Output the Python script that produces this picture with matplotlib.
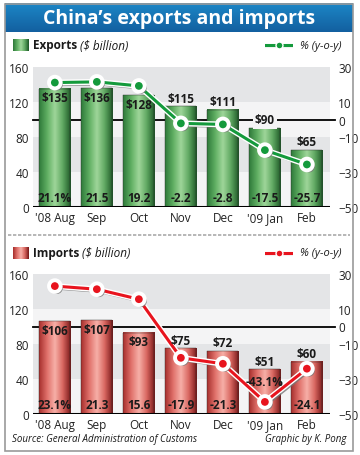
import numpy as np
import matplotlib
matplotlib.use("Agg")
import matplotlib.pyplot as plt
import matplotlib.patheffects as pe
from matplotlib.colors import LinearSegmentedColormap
from matplotlib.patches import Rectangle

months = ["'08 Aug", "Sep", "Oct", "Nov", "Dec", "'09 Jan", "Feb"]
exports = [135, 136, 128, 115, 111, 90, 65]
exports_yoy = [21.1, 21.5, 19.2, -2.2, -2.8, -17.5, -25.7]
imports = [106, 107, 93, 75, 72, 51, 60]
imports_yoy = [23.1, 21.3, 15.6, -17.9, -21.3, -43.1, -24.1]
left_ticks = [0, 40, 80, 120, 160]
right_ticks = [30, 10, 0, -10, -30, -50]

plt.rcParams['font.family'] = ['Open Sans', 'DejaVu Sans']

green_cm = LinearSegmentedColormap.from_list(
    "g", ["#2f7a3a", "#5fae62", "#9fd69a", "#5fa862", "#1f5a28"])
red_cm = LinearSegmentedColormap.from_list(
    "r", ["#a8302e", "#e0706a", "#f7b0a8", "#d86660", "#7a1a1a"])


def pct_to_left(p):
    # right axis 30..-50 maps onto left axis 160..0
    return (p + 50) * 2.0


def draw_panel(ax, values, yoy, cmap, line_col, inside, jan_pct_pos):
    x = np.arange(len(values))
    w = 0.74
    ax.set_xlim(-0.52, 6.55)
    ax.set_ylim(0, 160)
    # background bands
    for lo, hi, c in [(120, 160, "#e4e5e7"), (80, 120, "#f4f4f5"),
                      (40, 80, "#e4e5e7"), (0, 40, "#f4f4f5")]:
        ax.axhspan(lo, hi, color=c, zorder=0, lw=0)
    # zero-percent reference line
    ax.plot([-0.52, 6.68], [100, 100], color="black", lw=1.3, zorder=1, clip_on=False)
    grad = np.linspace(0, 1, 64).reshape(1, -1)
    for xi, v in zip(x, values):
        ax.imshow(grad, cmap=cmap, aspect="auto", zorder=2,
                  extent=(xi - w / 2, xi + w / 2, 0, v), interpolation="bilinear")
        ax.add_patch(Rectangle((xi - w / 2, 0), w, v, fill=False,
                               ec="#2a2a2a", lw=0.3, zorder=2.1))
    ax.axhline(0, color="black", lw=2.2, zorder=3)
    # y-o-y line
    yl = [pct_to_left(p) for p in yoy]
    ax.plot(x, yl, color=line_col, lw=2.2, zorder=5,
            marker="o", ms=7, mfc=line_col, mec="white", mew=1.4,
            path_effects=[pe.SimpleLineShadow(offset=(1.5, -1.5), shadow_color="#777777", alpha=0.8),
                          pe.Stroke(linewidth=4.2, foreground="white"), pe.Normal()])
    # labels
    for xi, v, p in zip(x, values, yoy):
        lab = "$%d" % v
        if xi < inside:
            ax.text(xi, v - 3, lab, ha="center", va="top", fontsize=8.5,
                    fontweight="bold", color="#1a1a1a", zorder=6)
        else:
            box = None
            if v < 100 < v + 16:
                box = dict(facecolor="#f4f4f5", edgecolor="none", pad=1.5)
            ax.text(xi, v + 2, lab, ha="center", va="bottom", fontsize=8.5,
                    fontweight="bold", color="#1a1a1a", zorder=6, bbox=box)
        ptxt = "%.1f" % p
        if xi == 0:
            ptxt += "%"
        ypos = 3
        if xi == jan_pct_pos:
            ptxt += "%"
            ypos = v - 21
        ax.text(xi, ypos, ptxt, ha="center", va="bottom", fontsize=8.5,
                fontweight="bold", color="#1a1a1a", zorder=6)
    ax.set_yticks(left_ticks)
    ax.set_xticks(x)
    ax.set_xticklabels(months, fontsize=8.5)
    ax.tick_params(axis="both", length=0, labelsize=8.5, pad=3, colors="#222222")
    for s in ax.spines.values():
        s.set_visible(False)
    ax2 = ax.twinx()
    ax2.set_ylim(-50, 30)
    ax2.set_yticks(right_ticks)
    ax2.tick_params(axis="y", length=0, labelsize=8.5, pad=6, colors="#222222")
    for s in ax2.spines.values():
        s.set_visible(False)


fig = plt.figure(figsize=(3.6, 4.56), dpi=100)
renderer = fig.canvas.get_renderer()

# frame and banner
fig.patches.append(Rectangle((5 / 360, 4 / 456), 348 / 360, 447 / 456, transform=fig.transFigure,
                             fill=False, ec="#9a9a9a", lw=1.2))
bax = fig.add_axes([5 / 360, 1 - 33 / 456, 348 / 360, 29 / 456])
bax.imshow(np.linspace(0, 1, 32).reshape(-1, 1),
           cmap=LinearSegmentedColormap.from_list("b", ["#1c86c6", "#1360a0"]),
           aspect="auto", extent=(0, 1, 0, 1))
bax.set_axis_off()
bax.text(0.5, 0.48, "China’s exports and imports", ha="center", va="center",
         color="white", fontsize=14, fontweight="bold", transform=bax.transAxes)

ax1 = fig.add_axes([33 / 360, 1 - 208 / 456, 297 / 360, 140 / 456])
draw_panel(ax1, exports, exports_yoy, green_cm, "#149a3c", 3, -1)
ax3 = fig.add_axes([33 / 360, 1 - 415 / 456, 297 / 360, 140 / 456])
draw_panel(ax3, imports, imports_yoy, red_cm, "#e8141e", 3, 5)


# legends
def legend_row(y, swatch_cm, label, line_col):
    sax = fig.add_axes([13 / 360, 1 - (y + 6) / 456, 15 / 360, 12 / 456])
    sax.imshow(np.linspace(0, 1, 32).reshape(1, -1), cmap=swatch_cm, aspect="auto")
    sax.set_axis_off()
    t = fig.text(33 / 360, 1 - y / 456, label[0], fontsize=8.5, fontweight="bold",
                 va="center", color="#1a1a1a")
    right = t.get_window_extent(renderer).x1
    fig.text((right + 3) / 360, 1 - y / 456, label[1], fontsize=8.5,
             style="italic", va="center", color="#1a1a1a")
    lax = fig.add_axes([265 / 360, 1 - (y + 5) / 456, 28 / 360, 10 / 456])
    lax.plot([0, 1], [0.5, 0.5], color=line_col, lw=2.2,
             path_effects=[pe.SimpleLineShadow(offset=(1, -1), shadow_color="#777777"),
                           pe.Stroke(linewidth=4, foreground="white"), pe.Normal()])
    lax.plot([0.5], [0.5], "o", ms=5, color=line_col, mec="white", mew=1)
    lax.set_xlim(0, 1)
    lax.set_ylim(0, 1)
    lax.set_axis_off()
    fig.text(300 / 360, 1 - y / 456, "% (y-o-y)", fontsize=8, style="italic",
             va="center", color="#1a1a1a")


legend_row(46, green_cm, ("Exports", "($ billion)"), "#149a3c")
legend_row(254, red_cm, ("Imports", "($ billion)"), "#e8141e")

# dotted separator
fig.add_artist(plt.Line2D([8 / 360, 350 / 360], [1 - 236 / 456] * 2, transform=fig.transFigure,
                          color="#aaaaaa", lw=1.2, ls=(0, (2, 1))))

fig.text(12 / 360, 1 - 440 / 456, "Source: General Administration of Customs",
         fontsize=7, style="italic", va="center", color="#1a1a1a")
fig.text(346 / 360, 1 - 440 / 456, "Graphic by K. Pong", fontsize=7, style="italic",
         va="center", ha="right", color="#1a1a1a")

fig.savefig("out.png", dpi=100)
